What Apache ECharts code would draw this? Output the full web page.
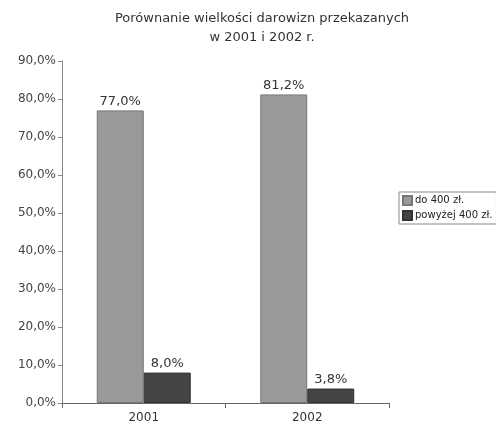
<!DOCTYPE html>
<html>
<head>
<meta charset="utf-8">
<script src="https://cdn.jsdelivr.net/npm/echarts@6/dist/echarts.min.js"></script>
<style>
html, body { margin: 0; padding: 0; background: #fff; }
#chart { width: 496px; height: 424px; }
</style>
</head>
<body>
<div id="chart"></div>
<script>
var years = ['2001', '2002'];
var do400 = [77.0, 81.2];
var powyzej400 = [8.0, 3.8];
var seriesNames = ['do 400 zł.', 'powyżej 400 zł.'];

var chart = document.getElementById('chart');
var myChart = echarts.init(chart);

function pct(v) {
    return v.toFixed(1).replace('.', ',') + '%';
}

var option = {
    animation: false,
    textStyle: { fontFamily: 'DejaVu Sans' },
    title: {
        left: 257,
        textAlign: 'center',
        top: 4,
        text: 'Porównanie wielkości darowizn przekazanych\nw 2001 i 2002 r.',
        textStyle: { fontSize: 13, fontWeight: 'normal', color: '#333', lineHeight: 19 }
    },
    legend: {
        orient: 'vertical',
        left: 399,
        top: 192,
        padding: [3, 4, 3, 3],
        itemGap: 4,
        itemWidth: 9,
        itemHeight: 9,
        icon: 'rect',
        borderColor: '#888',
        borderWidth: 1,
        borderRadius: 0,
        textStyle: { fontSize: 10, color: '#222', padding: [0, 0, 0, -2] },
        data: seriesNames
    },
    grid: { left: 62, right: 107, top: 61, bottom: 19 },
    xAxis: {
        type: 'category',
        data: years,
        axisLine: { lineStyle: { color: '#666' } },
        axisTick: { show: true, length: 5, lineStyle: { color: '#666' } },
        axisLabel: { fontSize: 12, color: '#333', margin: 9 }
    },
    yAxis: {
        type: 'value',
        min: 0,
        max: 90,
        interval: 10,
        axisLine: { show: true, lineStyle: { color: '#888' } },
        axisTick: { show: true, length: 4, inside: false, lineStyle: { color: '#888' } },
        splitLine: { show: false },
        axisLabel: { fontSize: 12, color: '#444', margin: 6, formatter: pct }
    },
    series: [
        {
            name: seriesNames[0],
            type: 'bar',
            data: do400,
            barWidth: 47,
            barGap: '0%',
            itemStyle: { color: '#999999', borderColor: '#777', borderWidth: 1 },
            label: { show: true, position: 'top', distance: 2, fontSize: 13, color: '#333', formatter: function (p) { return pct(p.value); } }
        },
        {
            name: seriesNames[1],
            type: 'bar',
            data: powyzej400,
            barWidth: 47,
            barGap: '0%',
            itemStyle: { color: '#444444', borderColor: '#333', borderWidth: 1 },
            label: { show: true, position: 'top', distance: 2, fontSize: 13, color: '#333', formatter: function (p) { return pct(p.value); } }
        }
    ]
};

myChart.setOption(option);
</script>
</body>
</html>
